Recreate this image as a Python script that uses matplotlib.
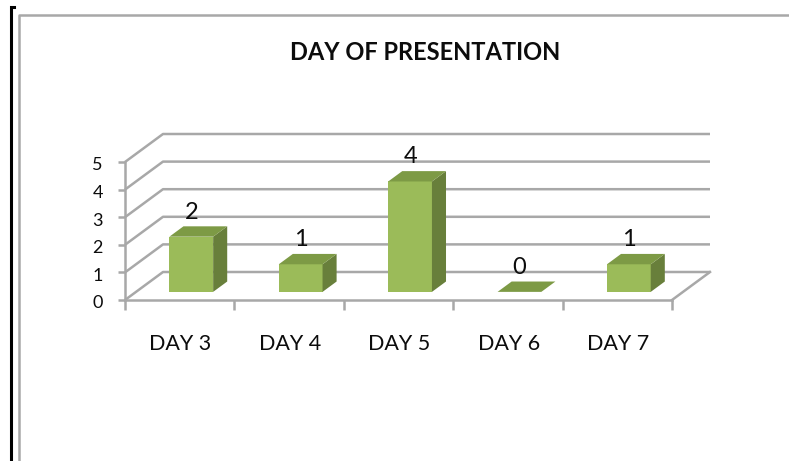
import numpy as np
from matplotlib import pyplot as plt
from matplotlib.lines import Line2D
from matplotlib.patches import Polygon
from matplotlib.transforms import ScaledTranslation

days = ["DAY 3", "DAY 4", "DAY 5", "DAY 6", "DAY 7"]
counts = [2, 1, 4, 0, 1]
y_ticks = [0, 1, 2, 3, 4, 5]
title = "DAY OF PRESENTATION"

W, H = 789, 461
GRID = "#a8a8a8"
FRONT = "#9bbb59"
SIDE = "#687f3b"
TOP = "#7d9a45"
TEXT = "#0c0c0c"

# depth of the fake 3d floor, in data units
DEPTH_X = 38 / 109.4
DEPTH_Y = 28 / 27.6
BAR_W = 0.40
BAR_D0 = 0.29
BAR_D1 = 0.66


def project(x, y, d):
    return (x + d * DEPTH_X, y + d * DEPTH_Y)


def draw_walls(ax):
    right = len(days)
    for v in y_ticks:
        a = project(0, v, 0)
        b = project(0, v, 1)
        c = project(right, v, 1)
        ax.plot([a[0], b[0], c[0]], [a[1], b[1], c[1]], color=GRID, lw=1.8,
                clip_on=False, zorder=1, solid_capstyle="butt")
    a = project(right, 0, 0)
    b = project(right, 0, 1)
    ax.plot([a[0], b[0]], [a[1], b[1]], color=GRID, lw=1.8, clip_on=False, zorder=1)


def draw_bar(ax, i, v):
    x0 = i + 0.5 - BAR_W / 2 + 0.005
    x1 = x0 + BAR_W
    front = [project(x0, 0, BAR_D0), project(x1, 0, BAR_D0),
             project(x1, v, BAR_D0), project(x0, v, BAR_D0)]
    side = [project(x1, 0, BAR_D0), project(x1, 0, BAR_D1),
            project(x1, v, BAR_D1), project(x1, v, BAR_D0)]
    top = [project(x0, v, BAR_D0), project(x1, v, BAR_D0),
           project(x1, v, BAR_D1), project(x0, v, BAR_D1)]
    if v > 0:
        ax.add_patch(Polygon(front, facecolor=FRONT, edgecolor="none", zorder=3, clip_on=False))
        ax.add_patch(Polygon(side, facecolor=SIDE, edgecolor="none", zorder=3, clip_on=False))
    ax.add_patch(Polygon(top, facecolor=TOP, edgecolor="none", zorder=3, clip_on=False))
    lx, ly = project(x0 + BAR_W / 2, v, BAR_D0)
    ax.annotate(str(v), (lx, ly), xytext=(0, 13), textcoords="offset points",
                ha="center", va="baseline", fontsize=17, color=TEXT,
                family="Lato", zorder=4, annotation_clip=False)


def main():
    fig = plt.figure(figsize=(W / 100, H / 100), dpi=100)
    ax = fig.add_axes([125 / W, 1 - 300 / H, (672 - 125) / W, (300 - 162) / H])
    ax.set_xlim(0, len(days))
    ax.set_ylim(0, 5)
    ax.patch.set_visible(False)

    for s in ["top", "right"]:
        ax.spines[s].set_visible(False)
    for s in ["left", "bottom"]:
        ax.spines[s].set_color(GRID)
        ax.spines[s].set_linewidth(1.8)

    draw_walls(ax)
    for i, v in enumerate(counts):
        draw_bar(ax, i, v)

    ax.set_yticks(y_ticks)
    ax.set_yticklabels([str(v) for v in y_ticks], family="Lato", fontsize=13, color=TEXT)
    ax.set_xticks(range(len(days) + 1))
    ax.set_xticklabels([""] * (len(days) + 1))
    ax.tick_params(axis="y", length=5, width=1.8, color=GRID, pad=11)
    ax.tick_params(axis="x", length=7, width=1.8, color=GRID)

    # labels sit a little under their ticks in the original
    shift = ScaledTranslation(0, -2 / 100, fig.dpi_scale_trans)
    for lab in ax.get_yticklabels():
        lab.set_transform(lab.get_transform() + shift)

    for i, d in enumerate(days):
        ax.annotate(d, (i + 0.5, 0), xytext=(0.5, -32), textcoords="offset points",
                    ha="center", va="center", fontsize=15.5, color=TEXT,
                    family="Lato", annotation_clip=False)

    fig.text(425 / W, 1 - 53 / H, title, ha="center", va="center", fontsize=17,
             fontweight="bold", family="Lato", color=TEXT)

    # chart frame and the black margin line of the page behind it
    fig.add_artist(Line2D([18.5 / W, 18.5 / W, 1], [0, 1 - 15 / H, 1 - 15 / H], color=GRID, lw=1.8))
    fig.add_artist(Line2D([14 / W, 10.5 / W, 10.5 / W], [1 - 7 / H, 1 - 7 / H, 0], color="black", lw=2.2,
                          solid_joinstyle="miter"))

    fig.savefig("out.png", dpi=100)


if __name__ == "__main__":
    main()
